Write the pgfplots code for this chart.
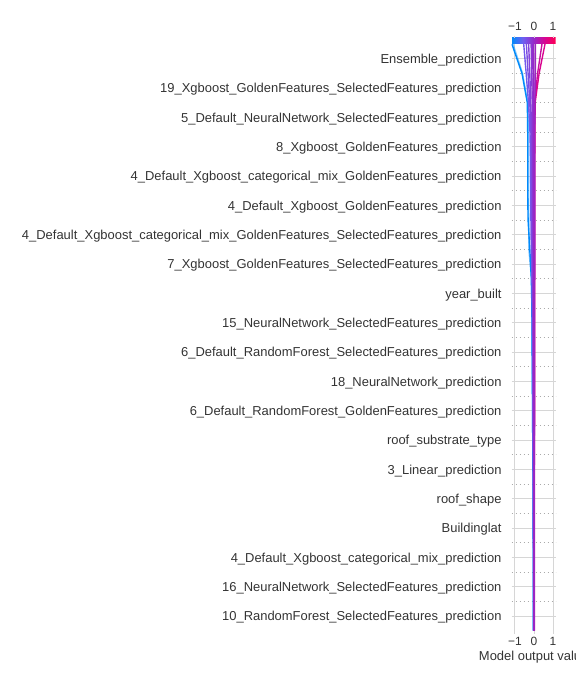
\documentclass[border=0pt]{standalone}
\usepackage{fontspec}
\setmainfont{Liberation Sans}
\usepackage{pgfplots}
\pgfplotsset{compat=1.18}
\definecolor{txt}{RGB}{51,51,51}
\definecolor{gridc}{RGB}{214,214,214}
\definecolor{dotc}{RGB}{170,170,170}
\definecolor{cA}{RGB}{0,138,250}
\definecolor{cB}{RGB}{114,89,236}
\definecolor{cC}{RGB}{123,78,227}
\definecolor{cD}{RGB}{130,68,220}
\definecolor{cE}{RGB}{138,57,212}
\definecolor{cF}{RGB}{144,48,206}
\definecolor{cG}{RGB}{150,40,200}
\definecolor{cH}{RGB}{158,36,193}
\definecolor{cI}{RGB}{199,14,159}
\definecolor{cJ}{RGB}{217,5,143}
\begin{document}
\begin{tikzpicture}
\begin{axis}[
  at={(511.7bp,53.3bp)}, anchor=south west,
  scale only axis, width=44bp, height=586.7bp,
  xmin=-1.17, xmax=1.14, ymin=0, ymax=20,
  xtick={-1,0,1}, xticklabels={−1,0,1},
  ytick={0.5,1.5,...,19.5},
  yticklabels={
    10\_RandomForest\_SelectedFeatures\_prediction,
    16\_NeuralNetwork\_SelectedFeatures\_prediction,
    4\_Default\_Xgboost\_categorical\_mix\_prediction,
    Buildinglat,
    roof\_shape,
    3\_Linear\_prediction,
    roof\_substrate\_type,
    6\_Default\_RandomForest\_GoldenFeatures\_prediction,
    18\_NeuralNetwork\_prediction,
    6\_Default\_RandomForest\_SelectedFeatures\_prediction,
    15\_NeuralNetwork\_SelectedFeatures\_prediction,
    year\_built,
    7\_Xgboost\_GoldenFeatures\_SelectedFeatures\_prediction,
    4\_Default\_Xgboost\_categorical\_mix\_GoldenFeatures\_SelectedFeatures\_prediction,
    4\_Default\_Xgboost\_GoldenFeatures\_prediction,
    4\_Default\_Xgboost\_categorical\_mix\_GoldenFeatures\_prediction,
    8\_Xgboost\_GoldenFeatures\_prediction,
    5\_Default\_NeuralNetwork\_SelectedFeatures\_prediction,
    19\_Xgboost\_GoldenFeatures\_SelectedFeatures\_prediction,
    Ensemble\_prediction},
  grid=major,
  major grid style={color=gridc, line width=0.9bp},
  extra y ticks={1,2,...,19},
  extra y tick labels={},
  extra y tick style={major grid style={color=dotc, line width=0.9bp, dash pattern=on 1bp off 3bp}, major tick length=0pt},
  axis line style={draw=none},
  tick align=outside,
  xtick pos=lower, ytick pos=left,
  major tick length=3bp,
  xtick style={color=gridc, line width=0.9bp},
  ytick style={draw=none},
  yticklabel style={font=\fontsize{13}{13}\selectfont, text=txt, inner xsep=0pt, xshift=-7bp, yshift=-1.5bp},
  xticklabel style={font=\fontsize{12}{12}\selectfont, text=txt},
  xlabel={Model output value},
  xlabel style={font=\fontsize{13}{13}\selectfont, text=txt, yshift=1bp},
  point meta min=-1.17, point meta max=1.14,
  colormap={shap}{rgb255=(0,138,250) rgb255=(110,95,240) rgb255=(150,40,200) rgb255=(215,5,145) rgb255=(255,0,82)},
  colorbar horizontal,
  colorbar style={
    at={(0,1)}, anchor=south west, yshift=1bp,
    scale only axis, width=44bp, height=6bp,
    xtick={-1,0,1}, xticklabels={−1,0,1},
    xtick pos=upper, xticklabel pos=upper,
    tick align=outside, major tick length=2bp,
    xtick style={color=gridc, line width=0.9bp},
    xticklabel style={font=\fontsize{12}{12}\selectfont, text=txt, yshift=2bp},
    axis line style={draw=none},
    ytick=\empty,
  },
  every axis plot/.append style={line width=1.4bp, line join=round},
]
% blue (final -1.16)
\addplot[cA] coordinates {(-0.03,0) (-0.03,1) (-0.04,2) (-0.04,3) (-0.05,4) (-0.05,5) (-0.06,6) (-0.07,7) (-0.08,8) (-0.09,9) (-0.10,10) (-0.11,11) (-0.14,12) (-0.22,13) (-0.31,14) (-0.33,15) (-0.33,16) (-0.33,17) (-0.35,18) (-0.63,19) (-1.16,20)};
% light blue companion
\addplot[cA, opacity=0.45] coordinates {(-0.03,0) (-0.03,1) (-0.04,2) (-0.04,3) (-0.05,4) (-0.05,5) (-0.06,6) (-0.07,7) (-0.08,8) (-0.09,9) (-0.10,10) (-0.11,11) (-0.13,12) (-0.27,13) (-0.27,14) (-0.28,15) (-0.28,16) (-0.29,17) (-0.33,18) (-0.60,19) (-1.10,20)};
\addplot[cB] coordinates {(-0.02,0) (-0.02,1) (-0.02,2) (-0.03,3) (-0.03,4) (-0.04,5) (-0.04,6) (-0.05,7) (-0.06,8) (-0.07,9) (-0.08,10) (-0.09,11) (-0.11,12) (-0.14,13) (-0.16,14) (-0.17,15) (-0.18,16) (-0.21,17) (-0.29,18) (-0.41,19) (-0.54,20)};
\addplot[cC] coordinates {(-0.01,0) (-0.01,1) (-0.02,2) (-0.02,3) (-0.02,4) (-0.03,5) (-0.03,6) (-0.04,7) (-0.04,8) (-0.05,9) (-0.06,10) (-0.07,11) (-0.08,12) (-0.10,13) (-0.12,14) (-0.13,15) (-0.14,16) (-0.16,17) (-0.22,18) (-0.31,19) (-0.40,20)};
\addplot[cD] coordinates {(-0.01,0) (-0.01,1) (-0.01,2) (-0.01,3) (-0.02,4) (-0.02,5) (-0.02,6) (-0.03,7) (-0.03,8) (-0.04,9) (-0.04,10) (-0.05,11) (-0.06,12) (-0.07,13) (-0.08,14) (-0.09,15) (-0.10,16) (-0.12,17) (-0.17,18) (-0.22,19) (-0.28,20)};
\addplot[cE] coordinates {(0.00,0) (0.00,1) (-0.01,2) (-0.01,3) (-0.01,4) (-0.01,5) (-0.01,6) (-0.02,7) (-0.02,8) (-0.02,9) (-0.03,10) (-0.03,11) (-0.04,12) (-0.04,13) (-0.05,14) (-0.05,15) (-0.06,16) (-0.07,17) (-0.09,18) (-0.12,19) (-0.15,20)};
\addplot[cF] coordinates {(0.00,0) (0.00,1) (0.00,2) (-0.01,3) (-0.01,4) (-0.01,5) (-0.01,6) (-0.01,7) (-0.01,8) (-0.02,9) (-0.02,10) (-0.02,11) (-0.02,12) (-0.02,13) (-0.03,14) (-0.03,15) (-0.03,16) (-0.03,17) (-0.04,18) (-0.05,19) (-0.08,20)};
\addplot[cI] coordinates {(0.01,0) (0.01,1) (0.01,2) (0.01,3) (0.01,4) (0.01,5) (0.02,6) (0.02,7) (0.02,8) (0.02,9) (0.02,10) (0.02,11) (0.03,12) (0.03,13) (0.03,14) (0.03,15) (0.03,16) (0.03,17) (0.04,18) (0.19,19) (0.42,20)};
\addplot[cJ] coordinates {(0.02,0) (0.02,1) (0.02,2) (0.02,3) (0.02,4) (0.02,5) (0.02,6) (0.03,7) (0.03,8) (0.03,9) (0.03,10) (0.03,11) (0.03,12) (0.04,13) (0.04,14) (0.04,15) (0.04,16) (0.05,17) (0.06,18) (0.27,19) (0.58,20)};
\addplot[cH] coordinates {(0.01,0) (0.01,1) (0.01,2) (0.01,3) (0.01,4) (0.01,5) (0.01,6) (0.02,7) (0.02,8) (0.02,9) (0.02,10) (0.02,11) (0.03,12) (0.03,13) (0.04,14) (0.04,15) (0.04,16) (0.04,17) (0.05,18) (0.07,19) (0.08,20)};
\addplot[cG] coordinates {(0.00,0) (0.00,1) (0.00,2) (0.00,3) (0.00,4) (0.00,5) (0.00,6) (0.00,7) (0.00,8) (0.00,9) (0.00,10) (0.00,11) (0.00,12) (0.00,13) (0.00,14) (0.00,15) (0.00,16) (0.00,17) (0.00,18) (-0.01,19) (-0.02,20)};
\end{axis}
\pgfresetboundingbox
\path[use as bounding box] (0,0) rectangle (576bp,684bp);
\end{tikzpicture}
\end{document}
